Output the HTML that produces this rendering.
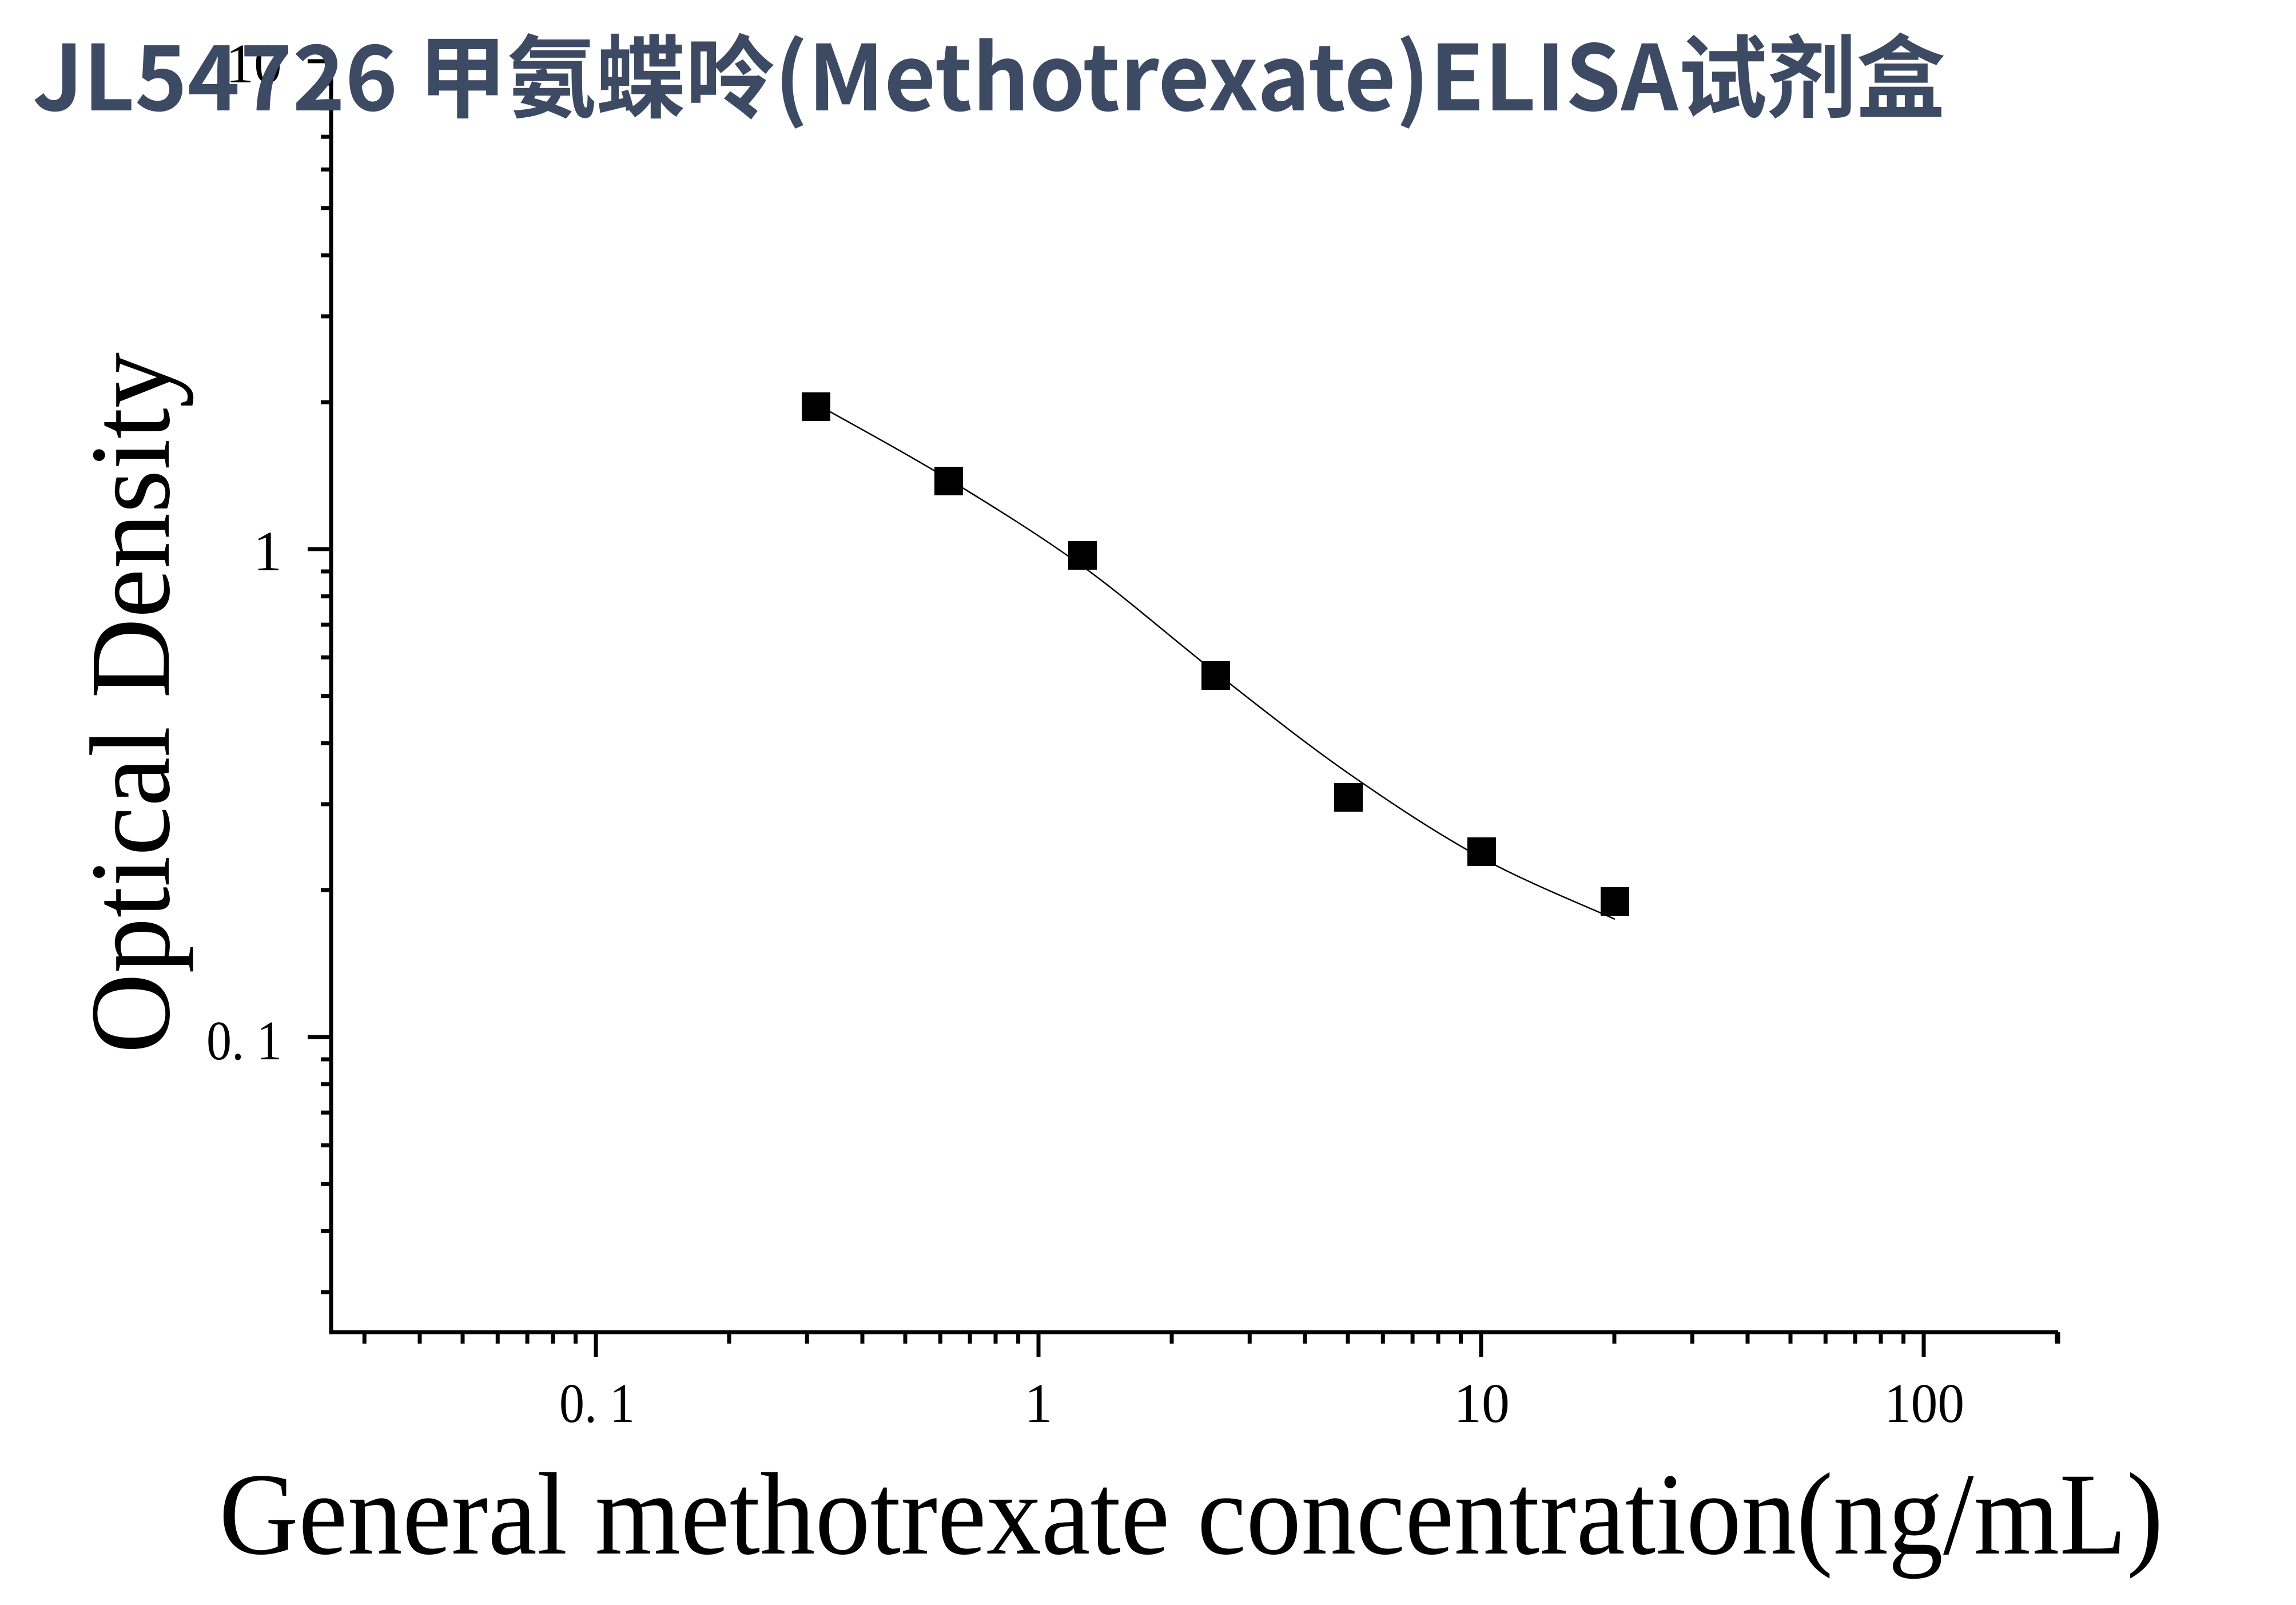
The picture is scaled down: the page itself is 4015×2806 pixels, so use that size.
<!DOCTYPE html>
<html><head><meta charset="utf-8"><style>
html,body{margin:0;padding:0;background:#fff;width:4015px;height:2806px;overflow:hidden}
svg{display:block}
</style></head><body>
<svg id="s" width="4015" height="2806" viewBox="0 0 4015 2806" xmlns="http://www.w3.org/2000/svg">
<g font-family="'Liberation Serif', serif" fill="#000">
<text x="493" y="144" font-size="98" text-anchor="end">10</text>
<text x="493" y="997" font-size="100" text-anchor="end">1</text>
<text x="493" y="1852" font-size="98" text-anchor="end" textLength="132" lengthAdjust="spacingAndGlyphs">0. 1</text>
<text x="1044" y="2486" font-size="98" text-anchor="middle" textLength="132" lengthAdjust="spacingAndGlyphs">0. 1</text>
<text x="1816" y="2486" font-size="98" text-anchor="middle">1</text>
<text x="2591" y="2486" font-size="98" text-anchor="middle">10</text>
<text x="3365" y="2486" font-size="98" text-anchor="middle" textLength="140" lengthAdjust="spacingAndGlyphs">100</text>
<text x="383" y="2716" font-size="205" textLength="3400" lengthAdjust="spacingAndGlyphs">General methotrexate concentration(ng/mL)</text>
<text transform="translate(295,1842) rotate(-90)" font-size="200" textLength="1226" lengthAdjust="spacingAndGlyphs">Optical Density</text>
</g>
<g id="ax" stroke="#000" fill="none"></g>
<path id="curve" fill="none" stroke="#000" stroke-width="2.5"/>
<g id="pts" fill="#000"></g>
<text x="57" y="193" font-family="'Noto Sans CJK SC','Liberation Sans',sans-serif" font-weight="bold" font-size="158" fill="#3d4a63" textLength="3345" lengthAdjust="spacingAndGlyphs">JL54726 甲氨蝶呤(Methotrexate)ELISA试剂盒</text>
</svg>
<script>
(function(){
var ns="http://www.w3.org/2000/svg",ax=document.getElementById('ax');
function L(x1,y1,x2,y2,w){var l=document.createElementNS(ns,'line');l.setAttribute('x1',x1);l.setAttribute('y1',y1);l.setAttribute('x2',x2);l.setAttribute('y2',y2);l.setAttribute('stroke-width',w);ax.appendChild(l);}
var X0=579,Y0=2329;
L(X0,104,X0,Y0+3.5,7);L(X0-3.5,Y0,3599,Y0,7);
function yp(v){return 960-853*Math.log10(v);}
for(var d=-2;d<=1;d++){for(var m=1;m<=9;m++){var v=m*Math.pow(10,d);var y=yp(v);if(y>Y0-5||y<100)continue;
 if(m==1)L(X0-41,y,X0,y,7);else L(X0-18,y,X0,y,7);}}
function xp(v){return 1816+774*Math.log10(v);}
for(var d=-2;d<=2;d++){for(var m=1;m<=9;m++){var v=m*Math.pow(10,d);var x=xp(v);if(x<X0+5||x>3605)continue;
 if(m==1)L(x,Y0,x,Y0+43,7);else L(x,Y0,x,Y0+20,7);}}
L(3599,Y0,3599,Y0+20,7);
var P=[[1427,708],[1659,838],[1893,990],[2126,1176],[2358,1352],[2591,1500],[2824,1607]];
var pts=[[1452,720]].concat(P.slice(1));
var d="M"+pts[0][0]+","+pts[0][1];
for(var i=0;i<pts.length-1;i++){var p0=pts[Math.max(0,i-1)],p1=pts[i],p2=pts[i+1],p3=pts[Math.min(pts.length-1,i+2)];
 d+=" C"+(p1[0]+(p2[0]-p0[0])/6)+","+(p1[1]+(p2[1]-p0[1])/6)+" "+(p2[0]-(p3[0]-p1[0])/6)+","+(p2[1]-(p3[1]-p1[1])/6)+" "+p2[0]+","+p2[1];}
document.getElementById('curve').setAttribute('d',d);
var M=[[1427,711],[1659,841],[1893,971],[2126,1181],[2358,1394],[2591,1489],[2824,1576]],g=document.getElementById('pts');
M.forEach(function(m){var r=document.createElementNS(ns,'rect');r.setAttribute('x',m[0]-25);r.setAttribute('y',m[1]-25);r.setAttribute('width',50);r.setAttribute('height',50);g.appendChild(r);});
})();
</script>
</body></html>
